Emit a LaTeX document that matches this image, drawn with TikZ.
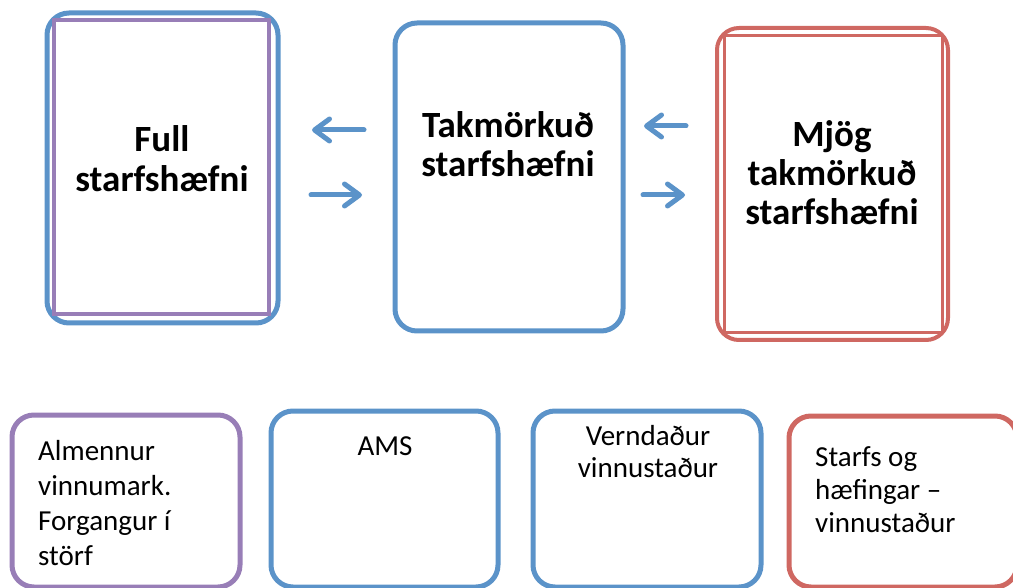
\documentclass[tikz,border=0pt]{standalone}
\usepackage{fontspec}
\setmainfont{Carlito}
\usetikzlibrary{arrows.meta}
\definecolor{blar}{RGB}{91,147,201}
\definecolor{fjola}{RGB}{152,126,183}
\definecolor{rautt}{RGB}{207,104,98}
\tikzset{kassi/.style={draw=blar, line width=5pt, rounded corners=22pt, inner sep=0pt},
  innri/.style={draw=fjola, line width=4pt, inner sep=0pt},
  stort/.style={font=\bfseries\fontsize{37}{40}\selectfont, align=center, inner sep=0pt, anchor=base},
  smatt/.style={font=\fontsize{29}{34}\selectfont, inner sep=0pt},
  pila/.style={draw=blar, line width=5pt, line cap=round, -{Straight Barb[length=15pt, width=22pt, round]}}}

\begin{document}
\begin{tikzpicture}[x=1pt, y=-1pt]
  \useasboundingbox (0,0) rectangle (1013,588);
  \clip (0,0) rectangle (1013,588);
  \begin{scope}
   \node[kassi, minimum width=231pt, minimum height=310pt] (full) at (162.50,168.00) {};
   \node[innri, minimum width=215pt, minimum height=294pt] (fullinn) at (161.50,167.00) {};
   \node[kassi, minimum width=228pt, minimum height=308pt] (takm) at (509.00,177.00) {};
   \node[kassi, draw=rautt, line width=4pt, minimum width=231pt, minimum height=312pt] (mjog) at (832.50,184.00) {};
   \node[innri, draw=rautt, line width=3pt, minimum width=218pt, minimum height=297pt] (mjoginn) at (833.00,184.50) {};
   \node[stort] (fulltxt) at (162.00,192.00) {Full\\starfshæfni};
   \node[stort, font=\bfseries\fontsize{37}{39}\selectfont] (takmtxt) at (508.00,177.00) {Takmörkuð\\starfshæfni};
   \node[stort, font=\bfseries\fontsize{37}{39}\selectfont] (mjogtxt) at (832.00,225.00) {Mjög\\takmörkuð\\starfshæfni};
  \end{scope}
  \begin{scope}
   \coordinate (a1) at (364.00,130.00);
   \coordinate (a2) at (312.00,130.00);
   \coordinate (b1) at (311.00,195.00);
   \coordinate (b2) at (362.00,195.00);
   \coordinate (c1) at (686.00,126.00);
   \coordinate (c2) at (644.00,126.00);
   \coordinate (d1) at (643.00,195.00);
   \coordinate (d2) at (685.00,195.00);
   \draw[pila] (a1) -- (a2);
   \draw[pila] (b1) -- (b2);
   \draw[pila] (c1) -- (c2);
   \draw[pila] (d1) -- (d2);
  \end{scope}
  \begin{scope}
   \node[kassi, draw=fjola, minimum width=228pt, minimum height=172pt] (almk) at (126.00,501.00) {};
   \node[kassi, minimum width=227pt, minimum height=176pt] (ams) at (384.50,499.00) {};
   \node[kassi, minimum width=228pt, minimum height=176pt] (vernd) at (647.00,499.00) {};
   \node[kassi, draw=rautt, minimum width=228pt, minimum height=171pt] (haef) at (903.00,501.50) {};
   \node[smatt, align=left, anchor=base west, font=\fontsize{29}{35}\selectfont] (almtxt) at (38.00,565.00) {Almennur\\vinnumark.\\Forgangur í\\störf};
   \node[smatt, anchor=base] (amstxt) at (385.00,455.00) {AMS};
   \node[smatt, align=center, anchor=base, font=\fontsize{29}{32}\selectfont] (verndtxt) at (648.00,477.00) {Verndaður\\vinnustaður};
   \node[smatt, align=left, anchor=base west, font=\fontsize{29}{33}\selectfont] (haeftxt) at (815.00,532.00) {Starfs og\\hæfingar –\\vinnustaður};
  \end{scope}
\end{tikzpicture}
\end{document}
